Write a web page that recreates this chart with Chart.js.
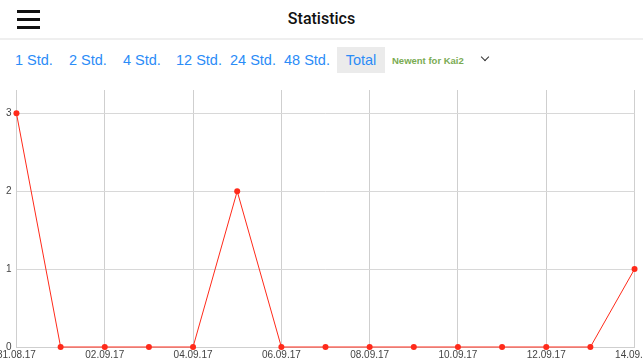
<!DOCTYPE html>
<html>
<head>
<meta charset="utf-8">
<script src="https://cdn.jsdelivr.net/npm/chart.js@4"></script>
<style>
    body { margin: 0; width: 643px; height: 362px; overflow: hidden; background: #fff; font-family: "Liberation Sans", Arial, sans-serif; position: relative; }
    .burger { position: absolute; left: 17px; top: 10px; width: 23px; }
    .burger span { display: block; height: 3px; background: #111; margin-bottom: 5px; }
    .title { position: absolute; left: 0; right: 0; top: 9px; text-align: center; font-family: Roboto, sans-serif; font-weight: 500; font-size: 16px; color: #111; }
    .sep { position: absolute; left: 0; right: 0; top: 38px; height: 2px; background: #efefef; }
    .tab { position: absolute; top: 52px; font-size: 14.5px; color: #2b8cf7; }
    .tab.active { background: #ebebeb; top: 47px; height: 26px; line-height: 27px; width: 48px; text-align: center; }
    .who { position: absolute; left: 392px; top: 55px; font-size: 9.5px; font-weight: bold; color: #7aab52; font-family: "Liberation Sans", sans-serif; }
    .chev { position: absolute; left: 482px; top: 54px; width: 5px; height: 5px; border-right: 1.5px solid #333; border-bottom: 1.5px solid #333; transform: rotate(45deg); }
    #wrap { position: absolute; left: -5px; top: 79px; width: 661px; height: 284px; }
</style>
</head>
<body>
<div class="burger"><span></span><span></span><span></span></div>
<div class="title">Statistics</div>
<div class="sep"></div>
<div class="tab" style="left:15px">1 Std.</div>
<div class="tab" style="left:69px">2 Std.</div>
<div class="tab" style="left:123px">4 Std.</div>
<div class="tab" style="left:176px">12 Std.</div>
<div class="tab" style="left:230px">24 Std.</div>
<div class="tab" style="left:284px">48 Std.</div>
<div class="tab active" style="left:337px">Total</div>
<div class="who">Newent for Kai2</div>
<div class="chev"></div>
<div id="wrap"><canvas id="chart"></canvas></div>
<script>
// one point per day, labels every second day
const days = ['31.08.17', '01.09.17', '02.09.17', '03.09.17', '04.09.17', '05.09.17', '06.09.17', '07.09.17',
    '08.09.17', '09.09.17', '10.09.17', '11.09.17', '12.09.17', '13.09.17', '14.09.17'];
const counts = [3, 0, 0, 0, 0, 2, 0, 0, 0, 0, 0, 0, 0, 0, 1];
const yTicks = [0, 1, 2, 3];

new Chart(document.getElementById('chart'), {
    type: 'line',
    data: {
        labels: days,
        datasets: [{
            data: counts,
            borderColor: '#ff2a1a',
            backgroundColor: '#ff2a1a',
            borderWidth: 1,
            pointRadius: 3,
            pointBorderWidth: 0,
            tension: 0,
            clip: false
        }]
    },
    options: {
        responsive: true,
        maintainAspectRatio: false,
        animation: false,
        layout: { padding: { top: 7 } },
        plugins: { legend: { display: false }, tooltip: { enabled: false } },
        scales: {
            x: {
                offset: false,
                grid: {
                    drawTicks: false,
                    color: ctx => (ctx.index % 2 === 0 ? '#cfcfcf' : 'rgba(0,0,0,0)')
                },
                border: { color: '#cfcfcf' },
                ticks: {
                    autoSkip: false,
                    maxRotation: 0,
                    padding: 2,
                    color: '#444',
                    font: { size: 10, family: 'Liberation Sans' },
                    callback: (v, i) => (i % 2 === 0 ? days[i] : '')
                }
            },
            y: {
                min: 0,
                max: 3.3,
                grid: {
                    drawTicks: false,
                    color: ctx => (yTicks.includes(ctx.tick.value) ? '#d8d8d8' : 'rgba(0,0,0,0)')
                },
                border: { color: '#cfcfcf' },
                ticks: {
                    stepSize: 1,
                    padding: 5,
                    color: '#444',
                    font: { size: 10, family: 'Liberation Sans' },
                    callback: v => (yTicks.includes(v) ? v : '')
                }
            }
        }
    }
});
</script>
</body>
</html>
